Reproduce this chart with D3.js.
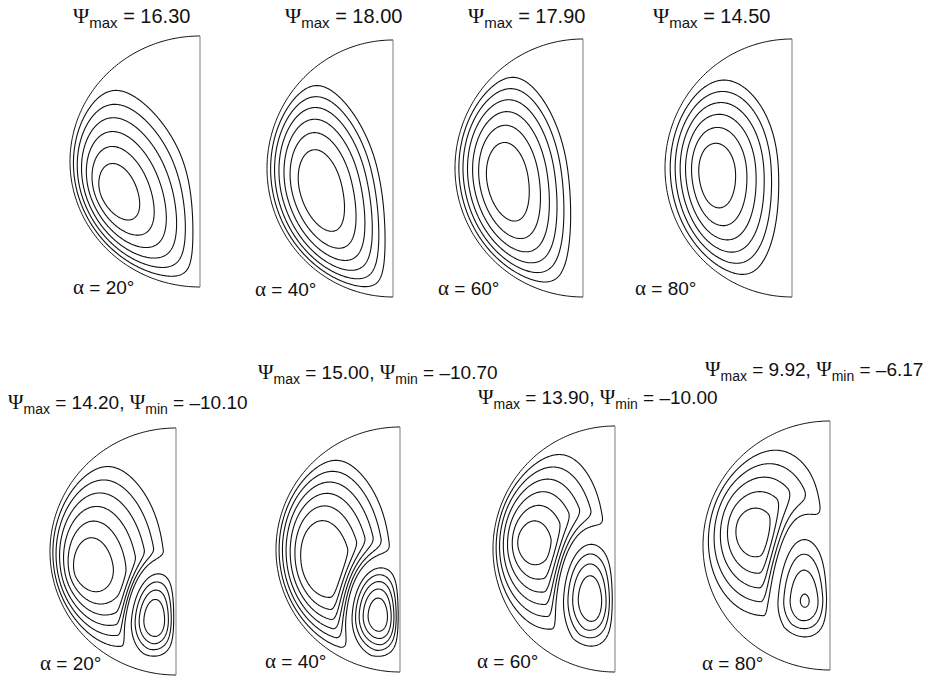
<!DOCTYPE html>
<html>
<head>
<meta charset="utf-8">
<script src="https://cdn.jsdelivr.net/npm/d3@7"></script>
<style>
  html, body { margin: 0; padding: 0; background: #fff; }
  svg { display: block; }
  text { font-family: "Liberation Sans", Arial, sans-serif; fill: #111; }
  .greek { font-family: "Liberation Serif", "Times New Roman", serif; }
</style>
</head>
<body>
<svg id="chart" width="931" height="677"></svg>
<script>
// ---- data ---------------------------------------------------------------
// Inclination angle of each semicircular cavity (degrees)
const alphaDeg = [20, 40, 60, 80, 20, 40, 60, 80];
// Extreme stream-function values of each case
const psiMax = [16.30, 18.00, 17.90, 14.50, 14.20, 15.00, 13.90, 9.92];
const psiMin = [null, null, null, null, -10.10, -10.70, -10.00, -6.17];
// Isoline levels (positive = primary cell, negative = secondary cell)
const posLevels = [
  [2.33, 4.66, 6.99, 9.31, 11.64, 13.97],
  [2.57, 5.14, 7.71, 10.29, 12.86, 15.43],
  [2.56, 5.11, 7.67, 10.23, 12.79, 15.34],
  [2.07, 4.14, 6.21, 8.29, 10.36, 12.43],
  [2, 4, 6, 8, 10, 12],
  [2, 4, 6, 8, 10, 12],
  [2, 4, 6, 8, 10, 12],
  [1.65, 3.30, 4.95, 6.60, 8.25]
];
const negLevels = [[], [], [], [],
  [-2, -4, -6, -8],
  [-1.8, -3.6, -5.4, -7.2, -9.0],
  [-2, -4, -6, -8],
  [-1.5, -3.0, -4.5, -6.0]
];
// Primary cell: centre (u, v), reach [left, right, up, down], tilt (deg), core exponent
const mainCentre = [[-0.72, -0.26], [-0.66, -0.17], [-0.67, -0.10], [-0.65, -0.04],
                    [-0.77, -0.16], [-0.71, -0.12], [-0.75, 0.05], [-0.65, 0.11]];
const mainReach = [[0.68, 0.74, 1.15, 1.30], [0.62, 0.62, 1.05, 1.35], [0.60, 0.62, 1.05, 1.25], [0.50, 0.62, 0.88, 1.10],
                   [0.76, 0.82, 1.15, 0.85], [0.61, 0.75, 1.12, 0.92], [0.73, 0.82, 1.10, 0.88], [0.66, 0.80, 0.96, 0.82]];
const mainTilt = [24, 16, 10, 4, 10, 10, 12, 18];
const mainCore = [1.15, 1.8, 1.7, 1.5, 1.15, 1.5, 1.1, 1.2];
// Secondary (counter-rotating) cell, lower cases only
const secCentre = [null, null, null, null, [-0.18, -0.55], [-0.20, -0.53], [-0.22, -0.38], [-0.21, -0.42]];
const secReach = [null, null, null, null,
                  [0.30, 0.32, 0.58, 0.43], [0.36, 0.35, 0.64, 0.48], [0.36, 0.35, 0.72, 0.57], [0.34, 0.34, 0.90, 0.45]];
const secTilt = [0, 0, 0, 0, 0, 5, 5, 5];
const secWeight = [0, 0, 0, 0, 1.3, 1.3, 1.3, 1.5];
// Wall layer thickness: curved wall, flat wall (primary), flat wall (secondary)
const arcLayer = [0.145, 0.15, 0.15, 0.14, 0.14, 0.14, 0.14, 0.14];
const flatLayerMain = [0.08, 0.08, 0.08, 0.08, 0.10, 0.10, 0.10, 0.10];
const flatLayerSec = [0.05, 0.05, 0.05, 0.05, 0.05, 0.05, 0.05, 0.05];

// ---- layout (pixels) ----------------------------------------------------
// [left of arc, flat wall x, top y, bottom y]
const frames = [
  [70, 200, 36, 287], [267, 393, 40, 297], [455, 583, 39, 297], [665, 792, 39, 297],
  [50, 176, 428, 675], [276, 400, 427, 672], [493, 615, 426, 672], [703, 830, 421, 670]
];
const headPos = [[73, 23], [285, 23], [468, 23], [653, 23], [8, 409], [258, 379], [478, 404], [705, 376]];
const alphaPos = [[73, 294], [255, 296], [438, 295], [635, 295], [40, 670], [265, 668], [477, 668], [702, 670]];
const headSize = [20, 20, 20, 20, 19, 19, 19, 19];

const svg = d3.select("#chart");
const NU = 150, NV = 300;
const du = 1 / (NU - 1), dv = 2 / (NV - 1);

// cell profile (1 - rho^p)^q on a tilted, four-quadrant ellipse
function cell(u, v, c, reach, tiltDeg, p, q) {
  const t = tiltDeg * Math.PI / 180, ct = Math.cos(t), st = Math.sin(t);
  const dx = u - c[0], dy = v - c[1];
  const xi = dx * ct + dy * st, eta = -dx * st + dy * ct;
  const sx = xi < 0 ? reach[0] : reach[1];
  const sy = eta > 0 ? reach[2] : reach[3];
  const rho = Math.hypot(xi / sx, eta / sy);
  return rho >= 1 ? 0 : Math.pow(1 - Math.pow(rho, p), q);
}

function streamField(i) {
  const vals = new Float64Array(NU * NV);
  for (let j = 0; j < NV; j++) {
    const v = -1 + j * dv;
    for (let k = 0; k < NU; k++) {
      const u = -1 + k * du;
      const r = Math.hypot(u, v);
      if (r >= 1 || u >= 0) continue;
      const b1 = 1 - Math.exp(-(1 - r) / arcLayer[i]);
      let val = cell(u, v, mainCentre[i], mainReach[i], mainTilt[i], mainCore[i], 1) *
                (1 - Math.exp(u / flatLayerMain[i]));
      if (secCentre[i]) {
        val -= secWeight[i] * cell(u, v, secCentre[i], secReach[i], secTilt[i], 2, 2) *
               (1 - Math.exp(u / flatLayerSec[i]));
      }
      vals[k + j * NU] = val * b1;
    }
  }
  // scale to the stated extremes
  const hi = d3.max(vals), lo = d3.min(vals);
  const kPos = psiMax[i] / hi, kNeg = (psiMin[i] != null && lo < 0) ? psiMin[i] / lo : 0;
  for (let n = 0; n < vals.length; n++) vals[n] = vals[n] > 0 ? vals[n] * kPos : vals[n] * kNeg;
  return vals;
}

const fmt = v => (v < 0 ? "\u2013" + Math.abs(v).toFixed(2) : v.toFixed(2));

alphaDeg.forEach((alpha, i) => {
  const [xl, xf, yt, yb] = frames[i];
  const xs = d3.scaleLinear().domain([-1, 0]).range([xl, xf]);
  const ys = d3.scaleLinear().domain([-1, 1]).range([yb, yt]);
  const g = svg.append("g");

  const vals = streamField(i);
  const proj = d3.geoTransform({
    point(x, y) { this.stream.point(xs(-1 + (x - 0.5) * du), ys(-1 + (y - 0.5) * dv)); }
  });
  const path = d3.geoPath(proj);

  const pos = d3.contours().size([NU, NV]).thresholds(posLevels[i])(vals);
  g.selectAll("path.pos").data(pos).join("path")
    .attr("class", "pos").attr("d", path)
    .attr("fill", "none").attr("stroke", "#111").attr("stroke-width", 1.1);

  if (negLevels[i].length) {
    const neg = vals.map(d => -d);
    const nc = d3.contours().size([NU, NV]).thresholds(negLevels[i].map(Math.abs))(neg);
    g.selectAll("path.neg").data(nc).join("path")
      .attr("class", "neg").attr("d", path)
      .attr("fill", "none").attr("stroke", "#111").attr("stroke-width", 1.1);
  }

  // curved wall
  const arc = d3.range(90, 270.5, 1).map(a => [Math.cos(a * Math.PI / 180), Math.sin(a * Math.PI / 180)]);
  g.append("path")
    .attr("d", d3.line().x(d => xs(d[0])).y(d => ys(d[1]))(arc))
    .attr("fill", "none").attr("stroke", "#111").attr("stroke-width", 1);
  // flat wall
  g.append("line")
    .attr("x1", xs(0)).attr("x2", xs(0)).attr("y1", ys(1)).attr("y2", ys(-1))
    .attr("stroke", "#888").attr("stroke-width", 1.1);

  // heading
  const fs = headSize[i];
  const head = svg.append("text").attr("x", headPos[i][0]).attr("y", headPos[i][1]).attr("font-size", fs);
  head.append("tspan").attr("class", "greek").attr("font-size", fs + 2).text("\u03A8");
  head.append("tspan").attr("font-size", fs - 5).attr("dy", 5).text("max");
  head.append("tspan").attr("dy", -5).text(" = " + fmt(psiMax[i]) + (psiMin[i] != null ? ", " : ""));
  if (psiMin[i] != null) {
    head.append("tspan").attr("class", "greek").attr("font-size", fs + 2).text("\u03A8");
    head.append("tspan").attr("font-size", fs - 5).attr("dy", 5).text("min");
    head.append("tspan").attr("dy", -5).text(" = " + fmt(psiMin[i]));
  }
  // angle label
  const al = svg.append("text").attr("x", alphaPos[i][0]).attr("y", alphaPos[i][1]).attr("font-size", 19);
  al.append("tspan").attr("class", "greek").attr("font-size", 21).text("\u03B1");
  al.append("tspan").text(" = " + alpha + "\u00B0");
});
</script>
</body>
</html>
